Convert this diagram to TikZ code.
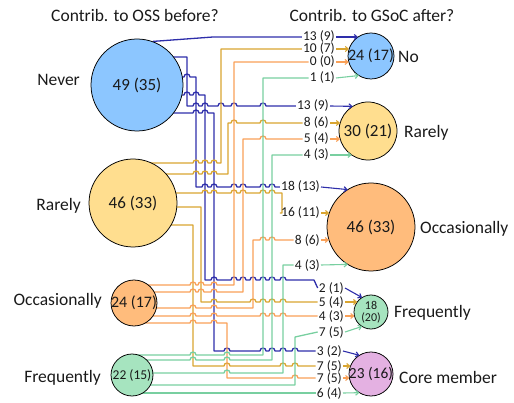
\documentclass[tikz,border=0pt]{standalone}
\usepackage{fontspec}
\setmainfont{Carlito}
\usetikzlibrary{arrows.meta,calc}
\pgfdeclarelayer{bg}
\pgfsetlayers{bg,main}
\definecolor{cB}{HTML}{2E2EAA}
\definecolor{cG}{HTML}{D9A530}
\definecolor{cO}{HTML}{F9A057}
\definecolor{cE}{HTML}{78CFA0}
\definecolor{fB}{HTML}{8CC6FF}
\definecolor{fG}{HTML}{FFDE8F}
\definecolor{fO}{HTML}{FFBC7C}
\definecolor{fE}{HTML}{A6E4BF}
\definecolor{fP}{HTML}{E4B1E2}
\definecolor{txt}{HTML}{1A1A1A}
\tikzset{
  bub/.style={circle, draw=black, line width=0.75pt, inner sep=0pt},
  btxt/.style={text=txt, inner sep=0pt, font=\fontsize{17}{18}\selectfont},
  cat/.style={text=txt, inner sep=0pt, font=\fontsize{17.5}{20}\selectfont},
  el/.style={text=txt, inner sep=1pt, anchor=east, font=\fontsize{13.5}{14}\selectfont},
  ln/.style={line width=1.3pt, line join=round},
  lB/.style={ln, draw=cB}, lG/.style={ln, draw=cG}, lO/.style={ln, draw=cO}, lE/.style={ln, draw=cE},
  arr/.style={line width=1.1pt, -{Straight Barb[length=3pt,width=5pt]}}
}
\newcommand\arrowto[4]{\draw[#1,arr] let \p1=(#2.east), \p2=(#3.center), \n1={max(-0.85*#4,min(0.85*#4,\y1-\y2))} in (\p1) -- ({\x2-sqrt(#4*#4-(\n1)^2)},{\y2+(\n1)});}
\begin{document}
\begin{tikzpicture}[x=1pt,y=-1pt]
\useasboundingbox (0,0) rectangle (514,403);
% titles
\node[cat] (t1) at (135,15) {Contrib. to OSS before?};
\node[cat] (t2) at (372,15) {Contrib. to GSoC after?};
% source circles
\node[bub, fill=fB, minimum size=92pt] (cNever) at (137,85) {};
\node[bub, fill=fG, minimum size=88pt] (cRar) at (133,203) {};
\node[bub, fill=fO, minimum size=46pt] (cOcc) at (134,303) {};
\node[bub, fill=fE, minimum size=42pt] (cFreq) at (132,375) {};
\node[btxt] (xNever) at (cNever) {49 (35)};
\node[btxt] (xRar) at (cRar) {46 (33)};
\node[btxt, font=\fontsize{16}{18}\selectfont] (xOcc) at (cOcc) {24 (17)};
\node[btxt, font=\fontsize{13.5}{15}\selectfont] (xFreq) at (cFreq) {22 (15)};
\node[cat, anchor=east] (sNever) at (80,80) {Never};
\node[cat, anchor=east] (sRar) at (81,206) {Rarely};
\node[cat, anchor=east] (sOcc) at (102,301) {Occasionally};
\node[cat, anchor=east] (sFreq) at (101,378) {Frequently};
% target circles
\node[bub, fill=fB, minimum size=46pt] (tNo) at (371,56) {};
\node[bub, fill=fG, minimum size=58pt] (tRar) at (368,131) {};
\node[bub, fill=fO, minimum size=88pt] (tOcc) at (371,227) {};
\node[bub, fill=fE, minimum size=34pt] (tFreq) at (371,312) {};
\node[bub, fill=fP, minimum size=44pt] (tCore) at (371,374) {};
\node[btxt, font=\fontsize{16}{18}\selectfont] (yNo) at (tNo) {24 (17)};
\node[btxt] (yRar) at (tRar) {30 (21)};
\node[btxt] (yOcc) at (tOcc) {46 (33)};
\node[btxt, align=center, font=\fontsize{12}{12.5}\selectfont] (yFreq) at (tFreq) {18\\(20)};
\node[btxt, font=\fontsize{15.4}{17}\selectfont] (yCore) at (tCore) {23 (16)};
\node[cat, anchor=west] (rNo) at (398,57) {No};
\node[cat, anchor=west] (rRar) at (404,133) {Rarely};
\node[cat, anchor=west] (rOcc) at (420,229) {Occasionally};
\node[cat, anchor=west] (rFreq) at (394,313) {Frequently};
\node[cat, anchor=west] (rCore) at (399,377) {Core member};
% edge labels
\node[el] (aB1) at (336,37) {13 (9)};
\node[el] (aG1) at (336,49) {10 (7)};
\node[el] (aO1) at (336,62) {0 (0)};
\node[el] (aE1) at (336,78) {1 (1)};
\node[el] (aB2) at (330,106) {13 (9)};
\node[el] (aG2) at (330,123) {8 (6)};
\node[el] (aO2) at (330,139) {5 (4)};
\node[el] (aE2) at (330,155) {4 (3)};
\node[el] (aB3) at (321,187) {18 (13)};
\node[el] (aG3) at (321,213) {16 (11)};
\node[el] (aO3) at (321,240) {8 (6)};
\node[el] (aE3) at (321,265) {4 (3)};
\node[el] (aB4) at (345,288) {2 (1)};
\node[el] (aG4) at (345,302) {5 (4)};
\node[el] (aO4) at (345,316) {4 (3)};
\node[el] (aE4) at (345,332) {7 (5)};
\node[el] (aB5) at (343,351) {3 (2)};
\node[el] (aG5) at (343,366) {7 (5)};
\node[el] (aO5) at (343,378) {7 (5)};
\node[el] (aE5) at (343,393) {6 (4)};
% arrows
\arrowto{cB}{aB1}{tNo}{23}
\arrowto{cG}{aG1}{tNo}{23}
\arrowto{cO}{aO1}{tNo}{23}
\arrowto{cE}{aE1}{tNo}{23}
\arrowto{cB}{aB2}{tRar}{29}
\arrowto{cG}{aG2}{tRar}{29}
\arrowto{cO}{aO2}{tRar}{29}
\arrowto{cE}{aE2}{tRar}{29}
\arrowto{cB}{aB3}{tOcc}{44}
\arrowto{cG}{aG3}{tOcc}{44}
\arrowto{cO}{aO3}{tOcc}{44}
\arrowto{cE}{aE3}{tOcc}{44}
\arrowto{cB}{aB4}{tFreq}{17}
\arrowto{cG}{aG4}{tFreq}{17}
\arrowto{cO}{aO4}{tFreq}{17}
\arrowto{cE}{aE4}{tFreq}{17}
\arrowto{cB}{aB5}{tCore}{22}
\arrowto{cG}{aG5}{tCore}{22}
\arrowto{cO}{aO5}{tCore}{22}
\arrowto{cE}{aE5}{tCore}{22}
\begin{pgfonlayer}{bg}
% blue (Never)
\draw[lB] (cNever.70) -- (213,37) -- (aB1.west);
\draw[lB] (cNever.center) |- (187,57) -- (187,106) foreach \h in {196,205,221,234,263}{ -- ({\h-3},106) arc[start angle=180,end angle=0,radius=3pt]} -- (aB2.west);
\draw[lB] (cNever.center) |- (160,77) foreach \h in {187}{ -- ({\h-3},77) arc[start angle=180,end angle=0,radius=3pt]} -- (196,77) -- (196,187) foreach \h in {205,214,234,243,263,272}{ -- ({\h-3},187) arc[start angle=180,end angle=0,radius=3pt]} -- (aB3.west);
\draw[lB] (cNever.center) |- (160,95) foreach \h in {187,196}{ -- ({\h-3},95) arc[start angle=180,end angle=0,radius=3pt]} -- (205,95) -- (205,280) foreach \h in {214,234,243,253,263,272,283}{ -- ({\h-3},280) arc[start angle=180,end angle=0,radius=3pt]} -- (314,280) -- (aB4.west);
\draw[lB] (cNever.center) |- (160,113) foreach \h in {196,205}{ -- ({\h-3},113) arc[start angle=180,end angle=0,radius=3pt]} -- (214,113) -- (214,351) foreach \h in {227,263,272,283,295}{ -- ({\h-3},351) arc[start angle=180,end angle=0,radius=3pt]} -- (aB5.west);
% gold (Rarely)
\draw[lG] (cRar.center) |- (140,163) foreach \h in {196,205,214}{ -- ({\h-3},163) arc[start angle=180,end angle=0,radius=3pt]} -- (221,163) -- (221,49) -- (aG1.west);
\draw[lG] (cRar.center) |- (140,174) foreach \h in {196,205,214}{ -- ({\h-3},174) arc[start angle=180,end angle=0,radius=3pt]} -- (228,174) -- (228,123) foreach \h in {234,263}{ -- ({\h-3},123) arc[start angle=180,end angle=0,radius=3pt]} -- (aG2.west);
\draw[lG] (cRar.center) |- (140,193) foreach \h in {205,214,234,243,263,272}{ -- ({\h-3},193) arc[start angle=180,end angle=0,radius=3pt]} -- (282,193) -- (282,213) -- (aG3.west);
\draw[lG] (cRar.center) |- (201,207) -- (201,302) foreach \h in {214,253,263,272,283}{ -- ({\h-3},302) arc[start angle=180,end angle=0,radius=3pt]} -- (aG4.west);
\draw[lG] (cRar.center) |- (193,225) -- (193,366) foreach \h in {227,283,295}{ -- ({\h-3},366) arc[start angle=180,end angle=0,radius=3pt]} -- (aG5.west);
% orange (Occasionally)
\draw[lO] (cOcc.center) |- (140,285) foreach \h in {193,201,214}{ -- ({\h-3},285) arc[start angle=180,end angle=0,radius=3pt]} -- (234,285) -- (234,62) -- (aO1.west);
\draw[lO] (cOcc.center) |- (140,292) foreach \h in {193,201,214}{ -- ({\h-3},292) arc[start angle=180,end angle=0,radius=3pt]} -- (243,292) -- (243,139) foreach \h in {263}{ -- ({\h-3},139) arc[start angle=180,end angle=0,radius=3pt]} -- (aO2.west);
\draw[lO] (cOcc.center) |- (140,308) foreach \h in {193,214}{ -- ({\h-3},308) arc[start angle=180,end angle=0,radius=3pt]} -- (253,308) -- (253,240) foreach \h in {263,272}{ -- ({\h-3},240) arc[start angle=180,end angle=0,radius=3pt]} -- (aO3.west);
\draw[lO] (cOcc.center) |- (140,316) foreach \h in {193,214,263,272,283}{ -- ({\h-3},316) arc[start angle=180,end angle=0,radius=3pt]} -- (aO4.west);
\draw[lO] (cOcc.center) |- (140,323) foreach \h in {193,214}{ -- ({\h-3},323) arc[start angle=180,end angle=0,radius=3pt]} -- (227,323) -- (227,378) foreach \h in {295}{ -- ({\h-3},378) arc[start angle=180,end angle=0,radius=3pt]} -- (aO5.west);
% green (Frequently)
\draw[lE] (cFreq.center) |- (135,355) foreach \h in {193,227}{ -- ({\h-3},355) arc[start angle=180,end angle=0,radius=3pt]} -- (263,355) -- (263,78) -- (aE1.west);
\draw[lE] (cFreq.center) |- (135,360) foreach \h in {193,227}{ -- ({\h-3},360) arc[start angle=180,end angle=0,radius=3pt]} -- (272,360) -- (272,155) -- (aE2.west);
\draw[lE] (cFreq.center) |- (135,373) foreach \h in {227}{ -- ({\h-3},373) arc[start angle=180,end angle=0,radius=3pt]} -- (283,373) -- (283,265) -- (aE3.west);
\draw[lE] (cFreq.center) |- (295,385) -- (295,337) -- (aE4.west);
\draw[lE] (cFreq.center) |- (aE5.west);
\end{pgfonlayer}
\end{tikzpicture}
\end{document}
